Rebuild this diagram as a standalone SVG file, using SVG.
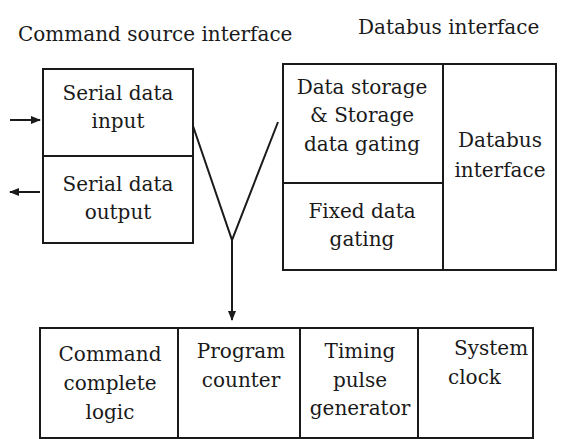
<svg xmlns="http://www.w3.org/2000/svg" width="567" height="439" viewBox="0 0 567 439">
<style>
text{font-family:"DejaVu Serif","Liberation Serif",serif;font-size:20px;fill:#1a1a1a;}
.c{text-anchor:middle;}
.box{fill:none;stroke:#1a1a1a;stroke-width:2;}
.ln{fill:none;stroke:#1a1a1a;stroke-width:2;}
</style>
<defs>
<marker id="ah" viewBox="0 0 10 10" refX="9" refY="5" markerWidth="5" markerHeight="5" orient="auto">
<path d="M0,1 L10,5 L0,9 z" fill="#1a1a1a"/>
</marker>
</defs>
<rect width="567" height="439" fill="#ffffff"/>
<text x="18" y="41">Command source interface</text>
<text x="358" y="34">Databus interface</text>

<g id="command-source">
<rect class="box" x="43" y="69" width="150" height="174"/>
<line class="ln" x1="43" y1="156" x2="193" y2="156"/>
<text class="c" x="118" y="100">Serial data</text>
<text class="c" x="118" y="128">input</text>
<text class="c" x="118" y="191">Serial data</text>
<text class="c" x="118" y="219">output</text>
</g>

<g id="databus">
<rect class="box" x="283" y="64" width="273" height="206"/>
<line class="ln" x1="443" y1="64" x2="443" y2="270"/>
<line class="ln" x1="283" y1="183" x2="443" y2="183"/>
<text class="c" x="362" y="94">Data storage</text>
<text class="c" x="362" y="122">&amp; Storage</text>
<text class="c" x="362" y="151">data gating</text>
<text class="c" x="362" y="218">Fixed data</text>
<text class="c" x="362" y="246">gating</text>
<text class="c" x="500" y="147">Databus</text>
<text class="c" x="500" y="177">interface</text>
</g>

<g id="control">
<rect class="box" x="40" y="328" width="493" height="110"/>
<line class="ln" x1="178" y1="328" x2="178" y2="438"/>
<line class="ln" x1="300" y1="328" x2="300" y2="438"/>
<line class="ln" x1="418" y1="328" x2="418" y2="438"/>
<text class="c" x="110" y="361">Command</text>
<text class="c" x="110" y="390">complete</text>
<text class="c" x="110" y="419">logic</text>
<text class="c" x="241" y="358">Program</text>
<text class="c" x="241" y="387">counter</text>
<text class="c" x="360" y="358">Timing</text>
<text class="c" x="360" y="387">pulse</text>
<text class="c" x="360" y="415">generator</text>
<text x="454" y="355">System</text>
<text x="448" y="384">clock</text>
</g>

<g id="connectors">
<line class="ln" x1="10" y1="120" x2="40" y2="120" marker-end="url(#ah)"/>
<line class="ln" x1="40" y1="192" x2="10" y2="192" marker-end="url(#ah)"/>
<polyline class="ln" points="193,126 232,240 278,122"/>
<line class="ln" x1="232" y1="240" x2="232" y2="320" marker-end="url(#ah)"/>
</g>
</svg>
